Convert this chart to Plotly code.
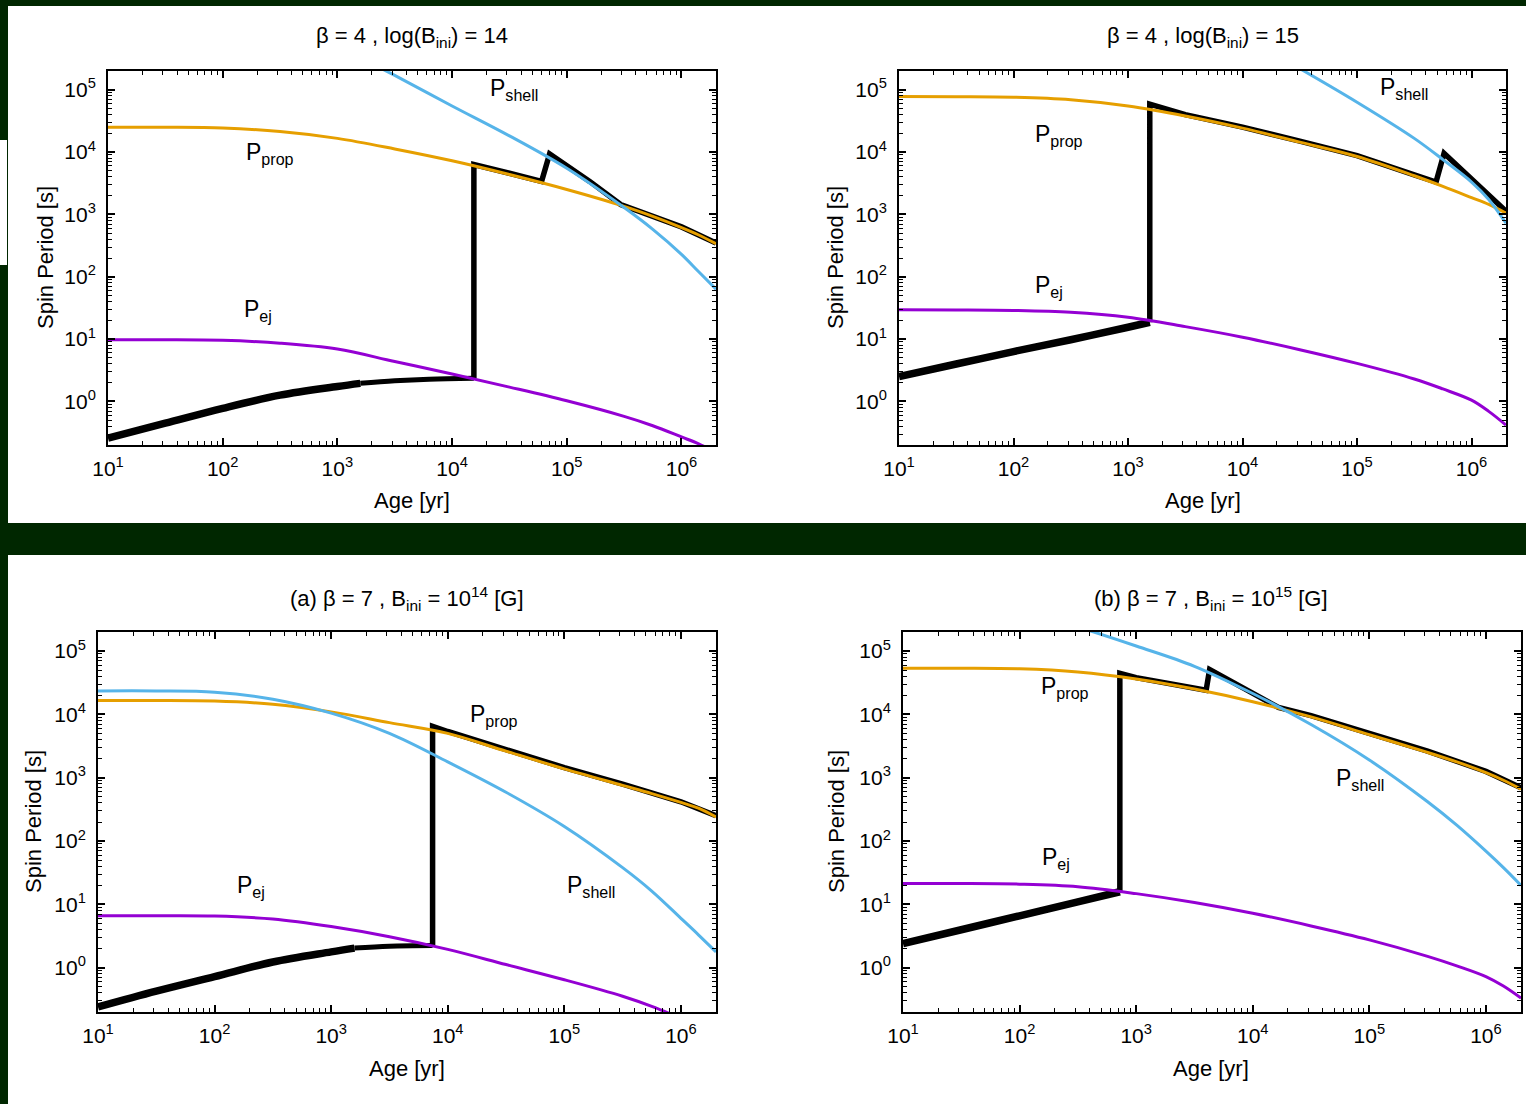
import plotly.graph_objects as go

W, H = 1526, 1104
BG_DARK = "#002700"
C_PROP = "#E69F00"
C_SHELL = "#56B4E9"
C_EJ = "#9400D3"
FONT = "Liberation Sans, Arial, sans-serif"

# ---------------- shared grid of ages [yr] ----------------
AGE = [10, 31.6, 100, 316, 1000, 3162, 1e4, 31620, 1e5, 316200, 562300, 1e6, 1413000, 2e6]

# ---------------- panel A : beta=4, log(B)=14 ----------------
A_prop = [25120, 25000, 24270, 21380, 16600, 11220, 7244, 4365, 2512, 1349, 933.3, 616.6, 467.7, 338.8]
A_ej = [9.772, 9.772, 9.550, 8.610, 6.918, 4.365, 2.754, 1.698, 1.023, 0.5754, 0.4074, 0.2692, 0.2089, 0.1514]
A_shell_age = [1000, 3162, 1e4, 31620, 1e5, 316200, 562300, 1e6, 1413000, 2e6]
A_shell = [501200, 169800, 54950, 18200, 5495, 1288, 575.4, 229.1, 120.2, 63.1]
A_spin1_age = [10, 31.6, 100, 316, 1000, 1585]
A_spin1 = [0.257, 0.4467, 0.7762, 1.259, 1.738, 1.950]
A_spin2_age = [1585, 3162, 6310, 15490]
A_spin2 = [1.950, 2.138, 2.265, 2.344]
A_rest_age = [15490, 15490, 31620, 60260, 70790, 158500, 295100, 562300, 1e6, 2e6]
A_rest = [2.344, 6310, 4571, 3388, 9333, 3388, 1445, 933.3, 631.0, 346.7]

# ---------------- panel B : beta=4, log(B)=15 ----------------
B_prop = [77620, 77270, 75860, 69180, 54950, 38020, 24270, 14450, 8511, 4169, 2818, 1862, 1445, 1047]
B_ej = [29.51, 29.38, 28.84, 26.92, 22.39, 15.85, 10.72, 6.761, 4.074, 2.291, 1.585, 1.047, 0.6918, 0.4169]
B_shell_age = [1e4, 31620, 1e5, 316200, 562300, 1e6, 1413000, 2e6]
B_shell = [724400, 218800, 63100, 16600, 7586, 3311, 1738, 724.4]
B_spin1_age = [10, 31.6, 100, 316, 1000, 1549]
B_spin1 = [2.512, 3.981, 6.310, 9.772, 15.49, 18.62]
B_rest_age = [1549, 1549, 3162, 1e4, 31620, 1e5, 316200, 489800, 575400, 2e6]
B_rest = [18.62, 58880, 39810, 25120, 14960, 8810, 4315, 3311, 9550, 1122]

# ---------------- panel C : beta=7, B=1e14 ----------------
C_prop = [16600, 16600, 16220, 14450, 10960, 7413, 5012, 2630, 1380, 758.6, 562.3, 407.4, 331.1, 239.9]
C_ej = [6.607, 6.607, 6.531, 5.888, 4.467, 3.090, 1.950, 1.122, 0.6457, 0.3548, 0.2455, 0.1585, 0.1202, 0.0871]
C_shell = [23440, 23440, 22390, 17380, 10470, 5012, 1778, 588.8, 169.8, 38.02, 16.22, 6.026, 3.311, 1.778]
C_spin1_age = [10, 31.6, 100, 316, 1000, 1585]
C_spin1 = [0.2399, 0.4266, 0.7244, 1.230, 1.778, 2.042]
C_spin2_age = [1585, 3162, 7413]
C_spin2 = [2.042, 2.188, 2.239]
C_rest_age = [7413, 7413, 1e4, 31620, 1e5, 316200, 1e6, 2e6]
C_rest = [2.239, 6457, 5370, 2754, 1445, 794.3, 416.9, 251.2]

# ---------------- panel D : beta=7, B=1e15 ----------------
D_prop = [53700, 53700, 52480, 46770, 36310, 25120, 15850, 9120, 4786, 2512, 1778, 1202, 912.0, 660.7]
D_ej = [21.38, 21.38, 20.89, 19.05, 14.79, 10.72, 7.244, 4.571, 2.754, 1.514, 1.072, 0.7244, 0.5129, 0.3311]
D_shell_age = [100, 316, 1000, 3162, 1e4, 31620, 1e5, 316200, 562300, 1e6, 1413000, 2e6]
D_shell = [446700, 239900, 120200, 57540, 21380, 6918, 1905, 416.9, 177.8, 69.18, 38.02, 19.95]
D_spin1_age = [10, 31.6, 100, 316, 724.4]
D_spin1 = [2.399, 3.981, 6.607, 10.96, 15.85]
D_rest_age = [724.4, 724.4, 1000, 1995, 3981, 4266, 16600, 31620, 1e5, 316200, 1e6, 2e6]
D_rest = [15.85, 44670, 38020, 30900, 23990, 51290, 12880, 9550, 5012, 2630, 1259, 691.8]

# ---------------- ticks ----------------
X_TICKS = [10, 100, 1e3, 1e4, 1e5, 1e6]
X_TICKTEXT = ["10<sup>1</sup>", "10<sup>2</sup>", "10<sup>3</sup>", "10<sup>4</sup>",
              "10<sup>5</sup>", "10<sup>6</sup>"]
Y_TICKS = [1, 10, 100, 1e3, 1e4, 1e5]
Y_TICKTEXT = ["10<sup>0</sup>", "10<sup>1</sup>", "10<sup>2</sup>", "10<sup>3</sup>",
              "10<sup>4</sup>", "10<sup>5</sup>"]

TITLES = ["β = 4 , log(B<sub>ini</sub>) = 14",
          "β = 4 , log(B<sub>ini</sub>) = 15",
          "(a) β = 7 , B<sub>ini</sub> = 10<sup>14</sup> [G]",
          "(b) β = 7 , B<sub>ini</sub> = 10<sup>15</sup> [G]"]
XTITLE = "Age [yr]"
YTITLE = "Spin Period [s]"

# minor tick positions (2..9 per decade)
x_minor = [m * 10 ** k for k in range(1, 7) for m in range(2, 10) if m * 10 ** k <= 2e6]
y_minor = [m * 10 ** k for k in range(-1, 6) for m in range(2, 10) if 0.2 <= m * 10 ** k <= 2e5]

# panel boxes in pixels (left, right, top, bottom)
boxes = [(108, 716, 71, 445), (899, 1506, 71, 445), (98, 716, 632, 1012), (903, 1521, 632, 1012)]

fig = go.Figure()

panels = [
    dict(prop=(AGE, A_prop), ej=(AGE, A_ej), shell=(A_shell_age, A_shell),
         spin=[(A_spin1_age, A_spin1, 7.5), (A_spin2_age, A_spin2, 5)], rest=(A_rest_age, A_rest)),
    dict(prop=(AGE, B_prop), ej=(AGE, B_ej), shell=(B_shell_age, B_shell),
         spin=[(B_spin1_age, B_spin1, 7.5)], rest=(B_rest_age, B_rest)),
    dict(prop=(AGE, C_prop), ej=(AGE, C_ej), shell=(AGE, C_shell),
         spin=[(C_spin1_age, C_spin1, 7.5), (C_spin2_age, C_spin2, 5)], rest=(C_rest_age, C_rest)),
    dict(prop=(AGE, D_prop), ej=(AGE, D_ej), shell=(D_shell_age, D_shell),
         spin=[(D_spin1_age, D_spin1, 7.5)], rest=(D_rest_age, D_rest)),
]

for i, p in enumerate(panels):
    xa = "x" if i == 0 else f"x{i+1}"
    ya = "y" if i == 0 else f"y{i+1}"
    for (ax, ay, w) in p["spin"]:
        fig.add_trace(go.Scatter(x=ax, y=ay, mode="lines", line=dict(color="black", width=w, shape="spline"),
                                 xaxis=xa, yaxis=ya, showlegend=False, hoverinfo="skip"))
    fig.add_trace(go.Scatter(x=p["rest"][0], y=p["rest"][1], mode="lines",
                             line=dict(color="black", width=5.5, shape="linear"),
                             xaxis=xa, yaxis=ya, showlegend=False, hoverinfo="skip"))
    for key, col in (("prop", C_PROP), ("shell", C_SHELL), ("ej", C_EJ)):
        fig.add_trace(go.Scatter(x=p[key][0], y=p[key][1], mode="lines",
                                 line=dict(color=col, width=3, shape="spline", smoothing=1.0),
                                 xaxis=xa, yaxis=ya, showlegend=False, hoverinfo="skip"))

layout = dict(width=W, height=H, autosize=False, margin=dict(l=0, r=0, t=0, b=0, pad=0, autoexpand=False),
              paper_bgcolor=BG_DARK, plot_bgcolor="white", showlegend=False,
              font=dict(family=FONT, color="black"))

common = dict(type="log", showline=True, linecolor="black", linewidth=2, mirror="ticks",
              ticks="inside", ticklen=7, tickwidth=1.5, tickcolor="black",
              showgrid=False, zeroline=False, automargin=False,
              tickfont=dict(family=FONT, size=21, color="black"))

for i, (l, r, t, b) in enumerate(boxes):
    sfx = "" if i == 0 else str(i + 1)
    layout["xaxis" + sfx] = dict(common, domain=[l / W, r / W], range=[1, 6.301], ticklabelstandoff=4,
                                 anchor="y" + sfx, tickmode="array", tickvals=X_TICKS, ticktext=X_TICKTEXT,
                                 minor=dict(tickmode="array", tickvals=x_minor, ticks="inside",
                                            ticklen=4, tickwidth=1, tickcolor="black"))
    layout["yaxis" + sfx] = dict(common, domain=[1 - b / H, 1 - t / H], range=[-0.699, 5.301], ticklabelstandoff=6,
                                 anchor="x" + sfx, tickmode="array", tickvals=Y_TICKS, ticktext=Y_TICKTEXT,
                                 minor=dict(tickmode="array", tickvals=y_minor, ticks="inside",
                                            ticklen=4, tickwidth=1, tickcolor="black"))

fig.update_layout(**layout)

# background panels
def prect(x0, y0, x1, y1):
    fig.add_shape(type="rect", xref="paper", yref="paper", x0=x0 / W, x1=x1 / W,
                  y0=1 - y1 / H, y1=1 - y0 / H, fillcolor="white", line=dict(width=0), layer="below")

prect(8, 6, W, 523)
prect(8, 555, W, H)
prect(0, 140, 7, 265)

ann = []
# titles and axis titles (pixel centers)
title_pos = [(412, 37), (1203, 37), (407, 598), (1211, 598)]
xt_pos = [(412, 500), (1203, 500), (407, 1068), (1211, 1068)]
yt_pos = [(45, 258), (835, 258), (33, 822), (836, 822)]
for i in range(4):
    tx, ty = title_pos[i]
    ann.append(dict(text=TITLES[i], x=tx / W, y=1 - ty / H, xref="paper", yref="paper",
                    showarrow=False, xanchor="center", yanchor="middle", font=dict(size=22)))
    ax_, ay_ = xt_pos[i]
    ann.append(dict(text=XTITLE, x=ax_ / W, y=1 - ay_ / H, xref="paper", yref="paper",
                    showarrow=False, xanchor="center", yanchor="middle", font=dict(size=22)))
    bx, by = yt_pos[i]
    ann.append(dict(text=YTITLE, x=bx / W, y=1 - by / H, xref="paper", yref="paper", textangle=-90,
                    showarrow=False, xanchor="center", yanchor="middle", font=dict(size=22)))

# curve labels in data coordinates (log10 units for log axes)
labels = [
    (0, "P<sub>shell</sub>", 4.54, 5.0), (0, "P<sub>prop</sub>", 2.41, 3.97), (0, "P<sub>ej</sub>", 2.31, 1.46),
    (1, "P<sub>shell</sub>", 5.41, 5.02), (1, "P<sub>prop</sub>", 2.40, 4.26), (1, "P<sub>ej</sub>", 2.31, 1.85),
    (2, "P<sub>prop</sub>", 4.40, 3.99), (2, "P<sub>ej</sub>", 2.31, 1.28), (2, "P<sub>shell</sub>", 5.23, 1.28),
    (3, "P<sub>prop</sub>", 2.39, 4.42), (3, "P<sub>ej</sub>", 2.31, 1.73), (3, "P<sub>shell</sub>", 4.92, 2.98),
]
for (i, txt, lx, ly) in labels:
    xa = "x" if i == 0 else f"x{i+1}"
    ya = "y" if i == 0 else f"y{i+1}"
    ann.append(dict(text=txt, x=lx, y=ly, xref=xa, yref=ya, showarrow=False,
                    xanchor="center", yanchor="middle", font=dict(size=23)))

fig.update_layout(annotations=ann)
fig.write_html("out.html")
